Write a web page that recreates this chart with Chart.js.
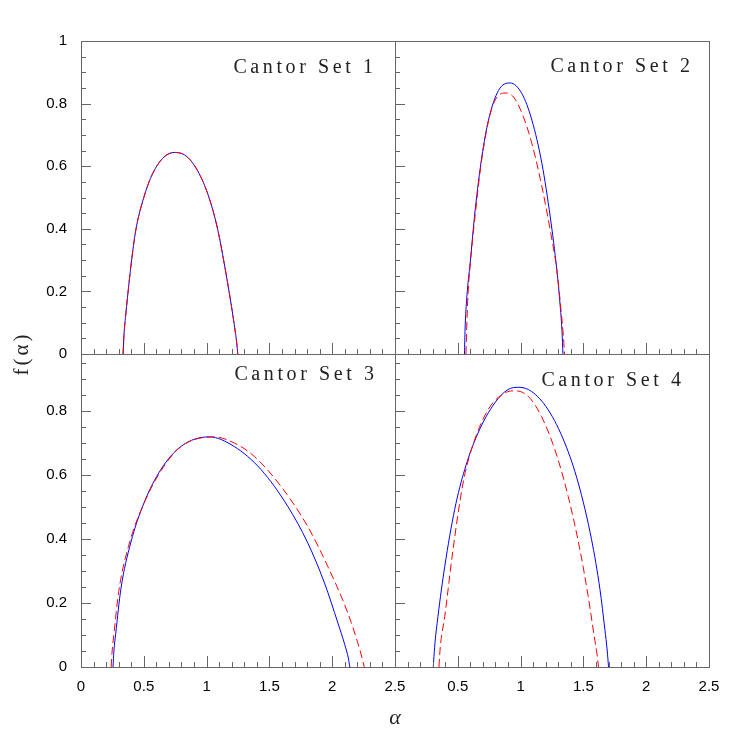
<!DOCTYPE html>
<html>
<head>
<meta charset="utf-8">
<script src="https://cdn.jsdelivr.net/npm/chart.js@4.4.0/dist/chart.umd.min.js"></script>
<style>
html, body { margin: 0; padding: 0; background: #fff; }
#wrap { position: relative; width: 747px; height: 747px; }
#wrap canvas { position: absolute; left: 0; top: 0; }
</style>
</head>
<body>
<div id="wrap">
  <canvas id="c1" width="747" height="747"></canvas>
  <canvas id="c2" width="747" height="747"></canvas>
  <canvas id="c3" width="747" height="747"></canvas>
  <canvas id="c4" width="747" height="747"></canvas>
</div>
<script>
// tick labels
const xTickValues = [0, 0.5, 1, 1.5, 2, 2.5];
const xTickValuesRight = [0.5, 1, 1.5, 2, 2.5];
const yTickValuesTop = [0, 0.2, 0.4, 0.6, 0.8, 1];
const yTickValuesBottom = [0, 0.2, 0.4, 0.6, 0.8];
const panelTitles = ['Cantor Set 1', 'Cantor Set 2', 'Cantor Set 3', 'Cantor Set 4'];

// Cantor Set 1 (solid and dashed curves coincide)
const set1AlphaSolid = [0.335, 0.342, 0.355, 0.37, 0.40, 0.436, 0.50, 0.57, 0.66, 0.747, 0.85, 0.955, 1.035, 1.09, 1.14, 1.195, 1.225, 1.24, 1.248];
const set1FSolid     = [0, 0.06, 0.12, 0.18, 0.29, 0.395, 0.50, 0.576, 0.629, 0.644, 0.628, 0.565, 0.48, 0.395, 0.29, 0.16, 0.08, 0.035, 0];
const set1AlphaDash  = [0.335, 0.342, 0.355, 0.37, 0.40, 0.436, 0.50, 0.57, 0.66, 0.747, 0.85, 0.955, 1.035, 1.09, 1.14, 1.195, 1.225, 1.24, 1.248];
const set1FDash      = [0, 0.06, 0.12, 0.18, 0.29, 0.395, 0.50, 0.576, 0.629, 0.644, 0.628, 0.565, 0.48, 0.395, 0.29, 0.16, 0.08, 0.035, 0];

// Cantor Set 2
const set2AlphaSolid = [0.553, 0.558, 0.572, 0.598, 0.638, 0.691, 0.744, 0.824, 0.917, 1.010, 1.090, 1.170, 1.236, 1.289, 1.316, 1.33, 1.337];
const set2FSolid     = [0, 0.08, 0.182, 0.289, 0.459, 0.629, 0.747, 0.842, 0.866, 0.832, 0.747, 0.608, 0.438, 0.267, 0.150, 0.07, 0];
const set2AlphaDash  = [0.565, 0.570, 0.58, 0.60, 0.64, 0.69, 0.771, 0.877, 0.944, 1.023, 1.090, 1.170, 1.236, 1.289, 1.322, 1.34, 1.35];
const set2FDash      = [0, 0.07, 0.18, 0.29, 0.45, 0.62, 0.785, 0.834, 0.821, 0.757, 0.672, 0.534, 0.395, 0.267, 0.14, 0.06, 0];

// Cantor Set 3
const set3AlphaSolid = [0.255, 0.262, 0.277, 0.317, 0.396, 0.502, 0.636, 0.795, 1.021, 1.220, 1.433, 1.646, 1.805, 1.938, 2.045, 2.10, 2.13, 2.14];
const set3FSolid     = [0, 0.05, 0.106, 0.242, 0.388, 0.513, 0.617, 0.689, 0.719, 0.689, 0.617, 0.502, 0.388, 0.263, 0.138, 0.07, 0.025, 0];
const set3AlphaDash  = [0.24, 0.248, 0.263, 0.30, 0.38, 0.50, 0.64, 0.80, 1.061, 1.220, 1.380, 1.593, 1.805, 1.965, 2.124, 2.204, 2.24, 2.255];
const set3FDash      = [0, 0.05, 0.106, 0.235, 0.38, 0.51, 0.615, 0.69, 0.719, 0.700, 0.658, 0.564, 0.439, 0.314, 0.169, 0.075, 0.025, 0];

// Cantor Set 4
const set4AlphaSolid = [0.305, 0.315, 0.342, 0.396, 0.475, 0.555, 0.661, 0.794, 0.900, 0.986, 1.087, 1.219, 1.352, 1.459, 1.565, 1.632, 1.671, 1.69, 1.70];
const set4FSolid     = [0, 0.06, 0.158, 0.314, 0.492, 0.617, 0.731, 0.825, 0.867, 0.874, 0.861, 0.804, 0.700, 0.575, 0.398, 0.242, 0.117, 0.05, 0];
const set4AlphaDash  = [0.35, 0.36, 0.396, 0.462, 0.542, 0.608, 0.741, 0.874, 0.954, 1.060, 1.166, 1.273, 1.379, 1.472, 1.538, 1.586, 1.61, 1.62];
const set4FDash      = [0, 0.06, 0.158, 0.367, 0.575, 0.679, 0.804, 0.856, 0.863, 0.846, 0.783, 0.679, 0.533, 0.367, 0.221, 0.096, 0.035, 0];

const W = 747;
const frameColor = '#666';

function pts(xs, ys) {
    return xs.map((x, i) => ({ x: x, y: ys[i] }));
}

// frame, inward tick marks and panel label
const framePlugin = {
    id: 'frame',
    afterDraw(chart, args, opts) {
        const ctx = chart.ctx;
        const a = chart.chartArea;
        const x = chart.scales.x, y = chart.scales.y;
        ctx.save();
        ctx.strokeStyle = frameColor;
        ctx.lineWidth = 1;
        ctx.strokeRect(a.left + 0.5, a.top + 0.5, a.right - a.left, a.bottom - a.top);
        ctx.beginPath();
        for (let i = 0; i <= 25; i++) {
            const px = Math.round(x.getPixelForValue(i / 10)) + 0.5;
            const len = i % 5 === 0 ? 11 : 5;
            ctx.moveTo(px, a.bottom);
            ctx.lineTo(px, a.bottom - len);
        }
        for (let i = 0; i * 0.05 <= y.max + 1e-9; i++) {
            const py = Math.round(y.getPixelForValue(i * 0.05)) + 0.5;
            const len = i % 4 === 0 ? 10 : 5;
            ctx.moveTo(a.left, py);
            ctx.lineTo(a.left + len, py);
        }
        ctx.stroke();

        ctx.fillStyle = '#222';
        ctx.font = '20px "Liberation Serif"';
        ctx.letterSpacing = '3.6px';
        ctx.textAlign = 'right';
        ctx.textBaseline = 'alphabetic';
        ctx.fillText(opts.title, a.right - opts.dx + 3.6, a.top + opts.dy);

        if (opts.axisTitles) {
            ctx.letterSpacing = '3px';
            ctx.textAlign = 'center';
            ctx.textBaseline = 'middle';
            ctx.font = '21px "Liberation Serif"';
            ctx.save();
            ctx.translate(22, 355);
            ctx.rotate(-Math.PI / 2);
            ctx.fillText('f(α)', 1.5, 0);
            ctx.restore();
            ctx.letterSpacing = '0px';
            ctx.font = 'italic 22px "Liberation Serif"';
            ctx.fillText('α', 395, 718);
        }
        ctx.restore();
    }
};

function makePanel(id, box, yMax, xLabels, yLabels, solid, dashed, titleOpts) {
    const tickFont = { family: '"Liberation Sans", Arial, sans-serif', size: 15 };
    return new Chart(document.getElementById(id), {
        type: 'line',
        data: {
            datasets: [
                { data: dashed, borderColor: '#ff0000', borderWidth: 1, borderDash: [8, 4],
                  pointRadius: 0, fill: false, cubicInterpolationMode: 'monotone' },
                { data: solid, borderColor: '#0000ff', borderWidth: 1,
                  pointRadius: 0, fill: false, cubicInterpolationMode: 'monotone' }
            ]
        },
        options: {
            responsive: false,
            animation: false,
            devicePixelRatio: 1,
            layout: { padding: { left: 0, top: box[1], right: W - box[2], bottom: 0 } },
            plugins: {
                legend: { display: false },
                tooltip: { enabled: false },
                frame: titleOpts
            },
            scales: {
                x: {
                    type: 'linear', min: 0, max: 2.5,
                    grid: { display: false, drawTicks: false },
                    border: { display: false },
                    afterBuildTicks: s => { s.ticks = xTickValues.map(v => ({ value: v })); },
                    afterFit: s => { s.height = W - box[3]; },
                    ticks: {
                        display: xLabels.length > 0,
                        padding: 11, color: '#000', font: tickFont,
                        autoSkip: false, maxRotation: 0,
                        callback: v => xLabels.includes(v) ? String(v) : ''
                    }
                },
                y: {
                    type: 'linear', min: 0, max: yMax,
                    grid: { display: false, drawTicks: false },
                    border: { display: false },
                    afterBuildTicks: s => { s.ticks = yTickValuesTop.filter(v => v <= yMax).map(v => ({ value: v })); },
                    afterFit: s => { s.width = box[0]; },
                    ticks: {
                        display: yLabels.length > 0,
                        padding: 14, color: '#000', font: tickFont,
                        autoSkip: false,
                        callback: v => yLabels.includes(v) ? String(v) : ''
                    }
                }
            }
        },
        plugins: [framePlugin]
    });
}

const bottomMax = 0.978;

makePanel('c1', [81, 41, 395, 354], 1, [], yTickValuesTop,
    pts(set1AlphaSolid, set1FSolid), pts(set1AlphaDash, set1FDash),
    { title: panelTitles[0], dx: 22, dy: 32, axisTitles: true });
makePanel('c2', [395, 41, 709, 354], 1, [], [],
    pts(set2AlphaSolid, set2FSolid), pts(set2AlphaDash, set2FDash),
    { title: panelTitles[1], dx: 19, dy: 31, axisTitles: false });
makePanel('c3', [81, 354, 395, 667], bottomMax, xTickValues, yTickValuesBottom,
    pts(set3AlphaSolid, set3FSolid), pts(set3AlphaDash, set3FDash),
    { title: panelTitles[2], dx: 21, dy: 26, axisTitles: false });
makePanel('c4', [395, 354, 709, 667], bottomMax, xTickValuesRight, [],
    pts(set4AlphaSolid, set4FSolid), pts(set4AlphaDash, set4FDash),
    { title: panelTitles[3], dx: 28, dy: 32, axisTitles: false });
</script>
</body>
</html>
